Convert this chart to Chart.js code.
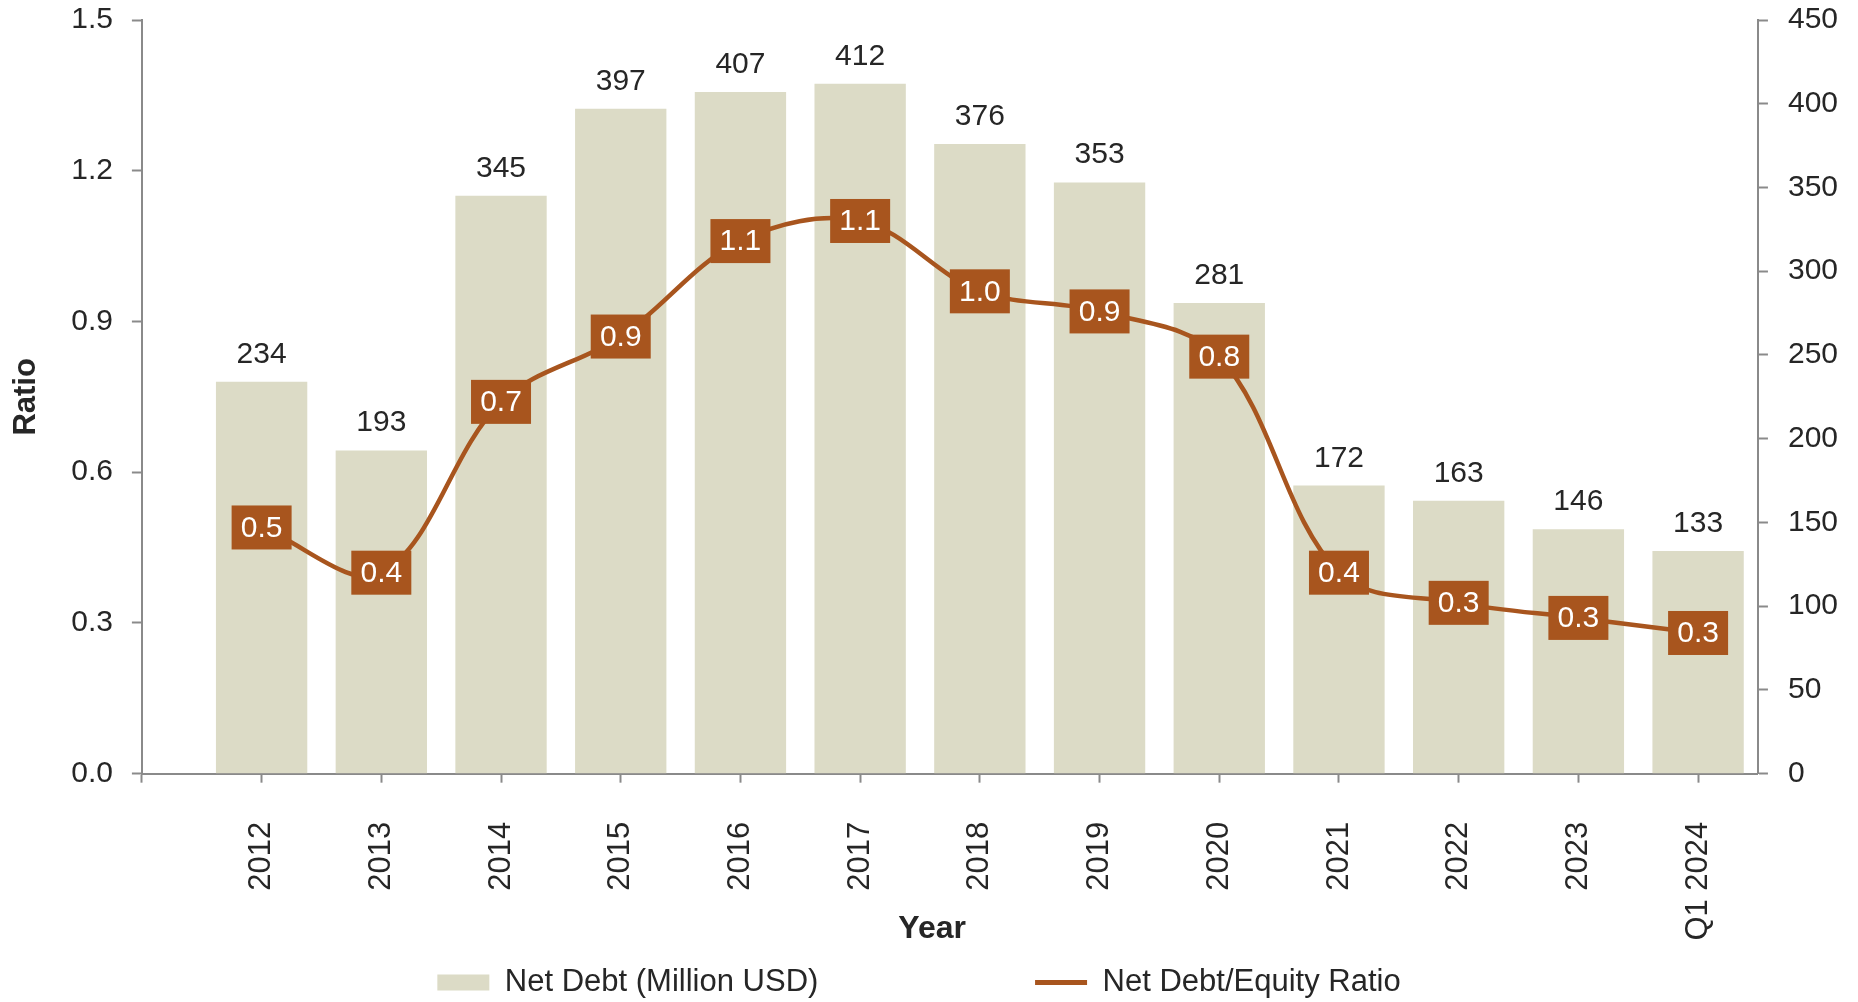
<!DOCTYPE html>
<html>
<head>
<meta charset="utf-8">
<script src="https://cdn.jsdelivr.net/npm/chart.js@4.4.1/dist/chart.umd.min.js"></script>
<style>
  html, body { margin: 0; padding: 0; background: #fff; }
</style>
</head>
<body>
<canvas id="debtChart" width="1858" height="1002"></canvas>
<script>
const years = ['2012', '2013', '2014', '2015', '2016', '2017', '2018', '2019', '2020', '2021', '2022', '2023', 'Q1 2024'];
const netDebt = [234, 193, 345, 397, 407, 412, 376, 353, 281, 172, 163, 146, 133];
const debtEquity = [0.49, 0.40, 0.74, 0.87, 1.06, 1.10, 0.96, 0.92, 0.83, 0.40, 0.34, 0.31, 0.28];
const ratioTicks = [0, 0.3, 0.6, 0.9, 1.2, 1.5];
const debtTicks = [0, 50, 100, 150, 200, 250, 300, 350, 400, 450];

const barColor = '#DCDBC6';
const lineColor = '#A8551E';
const axisColor = '#8a8a8a';
const textColor = '#262626';
const fontFamily = '"Liberation Sans", Arial, sans-serif';

Chart.defaults.font.family = fontFamily;
Chart.defaults.color = textColor;

// chart.js counts tick padding twice and pads the ends for labels, undo that
function trimAxis(axis) {
  const pad = axis.options.ticks.padding;
  if (axis.isHorizontal()) {
    axis.height -= pad;
    axis.paddingLeft = 0;
    axis.paddingRight = 0;
  } else {
    axis.width -= pad;
    axis.paddingTop = 0;
    axis.paddingBottom = 0;
  }
}

// value labels above bars + boxed ratio labels on the line
const valueLabels = {
  id: 'valueLabels',
  afterDatasetsDraw(chart) {
    const ctx = chart.ctx;
    ctx.save();
    ctx.textAlign = 'center';
    ctx.font = '30px ' + fontFamily;
    ctx.fillStyle = textColor;
    ctx.textBaseline = 'alphabetic';
    chart.getDatasetMeta(0).data.forEach((bar, i) => {
      ctx.fillText(String(netDebt[i]), bar.x, bar.y - 19);
    });
    ctx.textBaseline = 'middle';
    chart.getDatasetMeta(1).data.forEach((pt, i) => {
      ctx.fillStyle = lineColor;
      ctx.fillRect(pt.x - 30, pt.y - 22, 60, 44);
      ctx.fillStyle = '#ffffff';
      ctx.fillText(debtEquity[i].toFixed(1), pt.x, pt.y + 1);
    });
    ctx.restore();
  }
};

const idx = years.map((_, i) => i);

new Chart(document.getElementById('debtChart'), {
  data: {
    datasets: [
      {
        type: 'bar',
        label: 'Net Debt (Million USD)',
        data: idx.map(i => ({ x: i, y: netDebt[i] })),
        backgroundColor: barColor,
        borderWidth: 0,
        pointStyle: 'rect',
        yAxisID: 'y1',
        categoryPercentage: 1,
        barPercentage: 0.763,
        order: 1
      },
      {
        type: 'line',
        label: 'Net Debt/Equity Ratio',
        data: idx.map(i => ({ x: i, y: debtEquity[i] })),
        borderColor: lineColor,
        backgroundColor: lineColor,
        borderWidth: 4.5,
        pointRadius: 0,
        pointStyle: 'line',
        tension: 0.35,
        yAxisID: 'y',
        order: 0
      }
    ]
  },
  options: {
    responsive: false,
    animation: false,
    devicePixelRatio: 1,
    layout: { padding: { top: 20, right: 20, bottom: -6, left: 0 } },
    plugins: {
      tooltip: { enabled: false },
      legend: {
        position: 'bottom',
        labels: {
          usePointStyle: true,
          pointStyleWidth: 52,
          boxHeight: 16,
          padding: 10,
          color: textColor,
          font: { size: 31 },
          generateLabels(chart) {
            const items = Chart.defaults.plugins.legend.labels.generateLabels(chart);
            items.sort((a, b) => a.datasetIndex - b.datasetIndex);
            items[0].text = items[0].text + ' '.repeat(24);
            items[1].lineWidth = 5;
            return items;
          }
        }
      }
    },
    scales: {
      x: {
        type: 'linear',
        min: -1,
        max: 12.5,
        offset: false,
        afterBuildTicks: axis => { axis.ticks = [-1, ...idx].map(v => ({ value: v })); },
        afterFit: trimAxis,
        ticks: {
          autoSkip: false,
          minRotation: 90,
          maxRotation: 90,
          padding: 39,
          color: textColor,
          font: { size: 31 },
          callback: v => years[v] ?? ''
        },
        grid: { offset: false, drawOnChartArea: false, tickLength: 9, tickColor: axisColor, tickWidth: 2 },
        border: { color: axisColor, width: 2 },
        title: {
          display: true,
          text: 'Year    ',
          color: textColor,
          font: { size: 32, weight: 'bold' },
          padding: { top: -31, bottom: 9 }
        }
      },
      y: {
        position: 'left',
        min: 0,
        max: 1.5,
        afterBuildTicks: axis => { axis.ticks = ratioTicks.map(v => ({ value: v })); },
        afterFit: trimAxis,
        ticks: { padding: 19, color: textColor, font: { size: 30 }, callback: v => v.toFixed(1) },
        grid: { drawOnChartArea: false, tickLength: 10, tickColor: axisColor, tickWidth: 2 },
        border: { color: axisColor, width: 2 },
        title: {
          display: true,
          text: 'Ratio',
          color: textColor,
          font: { size: 31, weight: 'bold' },
          padding: { top: 8, bottom: 26 }
        }
      },
      y1: {
        position: 'right',
        min: 0,
        max: 450,
        afterBuildTicks: axis => { axis.ticks = debtTicks.map(v => ({ value: v })); },
        afterFit: trimAxis,
        ticks: { padding: 20, color: textColor, font: { size: 30 } },
        grid: { drawOnChartArea: false, tickLength: 10, tickColor: axisColor, tickWidth: 2 },
        border: { color: axisColor, width: 2 }
      }
    }
  },
  plugins: [valueLabels]
});
</script>
</body>
</html>
